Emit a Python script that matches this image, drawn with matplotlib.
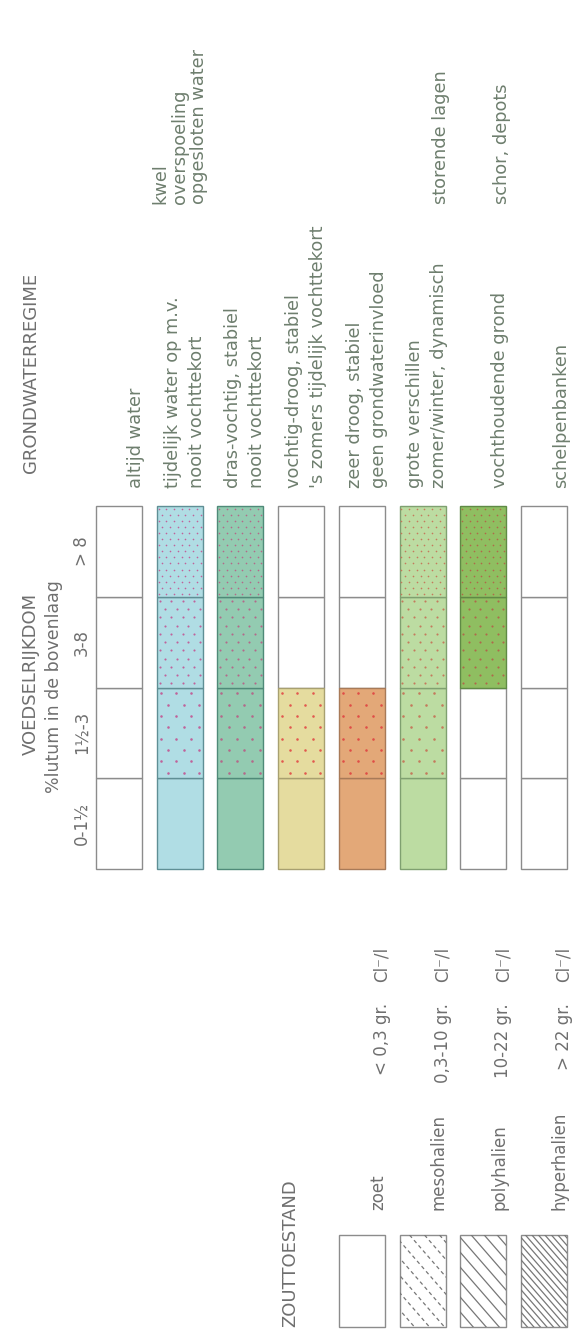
import numpy as np
import matplotlib.pyplot as plt
from matplotlib.patches import Rectangle

# lutum classes (voedselrijkdom), bottom to top of every column
lutum_classes = ['0-1½', '1½-3', '3-8', '> 8']

# grondwaterregime, one column each
regime_lines = [
    ['altijd water'],
    ['tijdelijk water op m.v.', 'nooit vochttekort'],
    ['dras-vochtig, stabiel', 'nooit vochttekort'],
    ['vochtig-droog, stabiel', "'s zomers tijdelijk vochttekort"],
    ['zeer droog, stabiel', 'geen grondwaterinvloed'],
    ['grote verschillen', 'zomer/winter, dynamisch'],
    ['vochthoudende grond'],
    ['schelpenbanken'],
]
regime_notes = [[], ['kwel', 'overspoeling', 'opgesloten water'], [], [], [],
                ['storende lagen'], ['schor, depots'], []]

# which lutum classes are coloured in each column (from, to exclusive)
fill_from = [0, 0, 0, 0, 0, 0, 2, 0]
fill_to = [0, 4, 4, 2, 2, 4, 4, 0]
fill_colors = [None, '#b0dde4', '#93cbb1', '#e5dc9f', '#e3a878', '#bcdca2', '#8fbe61', None]
edge_colors = [None, '#5f8f95', '#4f8a78', '#a8a070', '#a87a58', '#7fa070', '#5f8a45', None]
dot_colors = [None, '#c0629a', '#b4688a', '#e2584e', '#e04c46', '#c47a5c', '#b0684a', None]

# zouttoestand legend
salt_names = ['zoet', 'mesohalien', 'polyhalien', 'hyperhalien']
salt_ranges = ['< 0,3 gr.', '0,3-10 gr.', '10-22 gr.', '> 22 gr.']
salt_gap = [0, 15, 13, 6.5]
salt_dashed = [False, True, False, False]

# dot texture per lutum class: (dots per row, rows, marker size)
dot_grid = [(0, 0, 0), (3, 8, 3.4), (4, 11, 2.3), (6, 15, 1.4)]

W, H = 573, 1334
col_x0, col_pitch, col_w = 96, 60.7, 46
seg_bottom, seg_h = 869, 90.75

grey = '#8c8c8c'
txt_green = '#6e7e6e'
txt_grey = '#6f6f6f'
font = 'DejaVu Sans'

fig = plt.figure(figsize=(W / 100, H / 100), dpi=100)
ax = fig.add_axes([0, 0, 1, 1])
ax.set_xlim(0, W)
ax.set_ylim(H, 0)
ax.axis('off')


def vtext(x, y, s, ha='left', size=12, color=txt_green):
    ax.text(x, y, s, rotation=90, rotation_mode='anchor', ha=ha, va='baseline',
            fontsize=size, color=color, family=font)


# columns
for i in range(len(regime_lines)):
    x0 = col_x0 + i * col_pitch
    for k in range(len(lutum_classes)):
        y_top = seg_bottom - (k + 1) * seg_h
        filled = fill_from[i] <= k < fill_to[i]
        fc = fill_colors[i] if filled else 'white'
        ec = edge_colors[i] if filled else grey
        ax.add_patch(Rectangle((x0, y_top), col_w, seg_h, facecolor=fc,
                               edgecolor=ec, lw=1.0, zorder=2 if filled else 1))
        nx, ny, ms = dot_grid[k]
        if filled and nx:
            xs, ys = [], []
            for r in range(ny):
                off = 0.25 if r % 2 else -0.25
                for c in range(nx):
                    xs.append(x0 + (c + 0.5 + off) * col_w / nx)
                    ys.append(y_top + (r + 0.5) * seg_h / ny)
            ax.scatter(xs, ys, s=ms, color=dot_colors[i], lw=0, zorder=3)

    # grondwater descriptions above the column
    lines = regime_lines[i]
    for j, s in enumerate(lines):
        bx = x0 + 45 - (len(lines) - 1 - j) * 24
        vtext(bx, 488, s, size=12.8)
    notes = regime_notes[i]
    for j, s in enumerate(notes):
        bx = x0 + 47 - (len(notes) - 1 - j) * 19
        vtext(bx, 204, s, size=12.8)

# headers
vtext(36, 473, 'GRONDWATERREGIME', size=13, color=txt_grey)
vtext(36, 593, 'VOEDSELRIJKDOM', ha='right', size=13, color=txt_grey)
ax.text(59, 687, '%lutum in de bovenlaag', rotation=90, rotation_mode='anchor',
        ha='center', va='baseline', fontsize=12.5, color=txt_grey, family=font)
for k, lab in enumerate(lutum_classes):
    yc = seg_bottom - (k + 0.5) * seg_h
    ax.text(87, yc, lab, rotation=90, rotation_mode='anchor', ha='center',
            va='baseline', fontsize=12, color=txt_grey, family=font)

# zouttoestand legend, aligned with the last four columns
vtext(295, 1327, 'ZOUTTOESTAND', size=13, color=txt_grey)
for n in range(len(salt_names)):
    x0 = col_x0 + (4 + n) * col_pitch
    y0, y1 = 1235, 1327
    box = Rectangle((x0, y0), col_w, y1 - y0, facecolor='white', edgecolor=grey, lw=1.0)
    ax.add_patch(box)
    gap = salt_gap[n]
    if gap:
        slope = 1.15
        clip = Rectangle((x0, y0), col_w, y1 - y0, transform=ax.transData)
        for c in np.arange(x0 - (y1 - y0) / slope, x0 + col_w, gap):
            xx = np.array([c, c + (y1 - y0) / slope])
            yy = np.array([y0, y1])
            ln, = ax.plot(xx, yy, color='#777777', lw=0.9,
                          ls=(0, (3, 2.5)) if salt_dashed[n] else '-')
            ln.set_clip_path(clip)
    vtext(x0 + 44, 1210, salt_names[n], color=txt_grey)
    vtext(x0 + 48, 1003, salt_ranges[n], ha='right', color=txt_grey)
    vtext(x0 + 48, 982, 'Cl⁻/l', color=txt_grey)

fig.savefig('out.png', dpi=100, facecolor='white')
